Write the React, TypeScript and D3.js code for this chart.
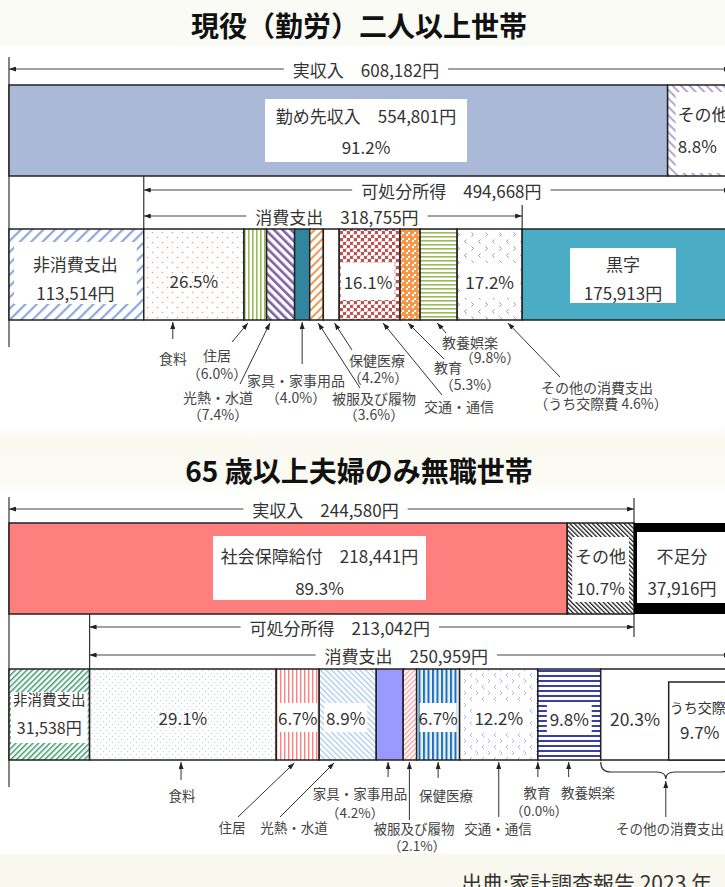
import React from "react";
import * as d3 from "d3";

const FONT = "'Noto Sans CJK JP', 'Noto Sans', sans-serif";

// 現役（勤労）二人以上世帯
const workTitle = "現役（勤労）二人以上世帯";
const workBracketLabels = ["実収入", "可処分所得", "消費支出"];
const workBracketValues = [608182, 494668, 318755];
const workIncomeLabels = ["勤め先収入", "その他"];
const workIncomeValues = [554801, 53381];
const workIncomeShares = [91.2, 8.8];
const workNonConsumption = 113514;
const workSurplus = 175913;
const workExpenseShares = [26.5, 6.0, 7.4, 4.0, 3.6, 4.2, 16.1, 5.3, 9.8, 17.2];
const workSocialShare = 4.6;

// 65歳以上夫婦のみ無職世帯
const seniorTitle = "65 歳以上夫婦のみ無職世帯";
const seniorBracketLabels = ["実収入", "可処分所得", "消費支出"];
const seniorBracketValues = [244580, 213042, 250959];
const seniorIncomeLabels = ["社会保障給付", "その他"];
const seniorIncomeValues = [218441, 26139];
const seniorIncomeShares = [89.3, 10.7];
const seniorNonConsumption = 31538;
const seniorDeficit = 37916;
const seniorExpenseShares = [29.1, 6.7, 8.9, 4.2, 2.1, 6.7, 12.2, 0.0, 9.8, 20.3];
const seniorSocialShare = 9.7;

const expenseCategories = [
  "食料", "住居", "光熱・水道", "家具・家事用品", "被服及び履物",
  "保健医療", "交通・通信", "教育", "教養娯楽", "その他の消費支出",
];
const sourceNote = "出典:家計調査報告 2023 年";

const yen = (v: number) => d3.format(",")(v) + "円";
const pct = (v: number) => d3.format(".1f")(v) + "%";

let ctx: CanvasRenderingContext2D | null = null;
function textWidth(s: string, size: number) {
  if (!ctx) ctx = document.createElement("canvas").getContext("2d");
  if (!ctx) return s.length * size;
  ctx.font = `${size}px ${FONT}`;
  return ctx.measureText(s).width;
}

// cumulative layout of the consumption breakdown between two x positions
function segments(shares: number[], x0: number, x1: number) {
  const s = d3.scaleLinear().domain([0, d3.sum(shares)]).range([x0, x1]);
  const cum = d3.cumsum(shares);
  return shares.map((v, i) => ({ i, share: v, x0: s(cum[i] - v), x1: s(cum[i]) }));
}

function Stripes({ id, color, size, width, angle, bg = "#fff" }: any) {
  return (
    <pattern id={id} patternUnits="userSpaceOnUse" width={size} height={size}
      patternTransform={`rotate(${angle})`}>
      <rect width={size} height={size} fill={bg} />
      <rect width={width} height={size} fill={color} />
    </pattern>
  );
}

function Dots({ id, color, size, r, bg = "#fff" }: any) {
  return (
    <pattern id={id} patternUnits="userSpaceOnUse" width={size} height={size}>
      <rect width={size} height={size} fill={bg} />
      <circle cx={size / 4} cy={size / 4} r={r} fill={color} />
      <circle cx={(size * 3) / 4} cy={(size * 3) / 4} r={r} fill={color} />
    </pattern>
  );
}

function Chevrons({ id, color, size }: any) {
  const q = size / 4;
  return (
    <pattern id={id} patternUnits="userSpaceOnUse" width={size} height={size}>
      <rect width={size} height={size} fill="#fff" />
      <path d={`M${q + 1},${q - 2}l-2,2l2,2`} stroke={color} fill="none" strokeWidth={1} />
      <path d={`M${3 * q - 1},${3 * q - 2}l2,2l-2,2`} stroke={color} fill="none" strokeWidth={1} />
    </pattern>
  );
}

function Bracket({ x0, x1, y, text, dx = 0 }: any) {
  const w = textWidth(text, 17);
  const cx = (x0 + x1) / 2 + dx;
  return (
    <g>
      <line x1={cx - w / 2 - 9} x2={x0} y1={y} y2={y} stroke="#444" strokeWidth={1.2} markerEnd="url(#arr)" />
      <line x1={cx + w / 2 + 9} x2={x1} y1={y} y2={y} stroke="#444" strokeWidth={1.2} markerEnd="url(#arr)" />
      <text x={cx} y={y} textAnchor="middle" dominantBaseline="central" fontSize={17} fill="#333">{text}</text>
    </g>
  );
}

function Box({ x, y, w, h, lines, size = 17, stroke = "none", anchor = "middle", tx }: any) {
  const cx = tx ?? x + w / 2;
  return (
    <g>
      <rect x={x} y={y} width={w} height={h} fill="#fff" stroke={stroke} strokeWidth={1.5} />
      {lines.map((l: any, k: number) => (
        <text key={k} x={l.x ?? cx} y={l.y} textAnchor={l.anchor ?? anchor} dominantBaseline="central"
          fontSize={l.size ?? size} fill="#333">
          {l.text}
        </text>
      ))}
    </g>
  );
}

function Note({ tip, tail, lines, size = 14 }: any) {
  return (
    <g>
      <line x1={tail[0]} y1={tail[1]} x2={tip[0]} y2={tip[1]} stroke="#333" strokeWidth={1} markerEnd="url(#arr)" />
      {lines.map((l: any, k: number) => (
        <text key={k} x={l[1]} y={l[2]} textAnchor="middle" dominantBaseline="central" fontSize={size} fill="#444">
          {l[0]}
        </text>
      ))}
    </g>
  );
}

const workFills = ["url(#wFood)", "url(#wHouse)", "url(#wUtil)", "#31859C", "url(#wCloth)", "#fff",
  "url(#wTrans)", "url(#wEdu)", "url(#wCult)", "url(#wOther)"];
const seniorFills = ["url(#sFood)", "url(#sHouse)", "url(#sUtil)", "#9999FF", "url(#sCloth)", "url(#sHealth)",
  "url(#sTrans)", "#fff", "url(#sCult)", "#fff"];

export default function App() {
  const W = 725, H = 887;
  const tx = d3.scaleLinear().domain([0, workBracketValues[0]]).range([9, 731]);
  const bx = d3.scaleLinear().domain([0, seniorBracketValues[0]]).range([9, 634]);

  // top section
  const tIncomeY = 85, tIncomeH = 91;
  const tExpY = 229, tExpH = 91;
  const tSplit = tx(workIncomeValues[0]);
  const tNon = tx(workNonConsumption);
  const tConsEnd = tx(workNonConsumption + workBracketValues[2]);
  const tSeg = segments(workExpenseShares, tNon, tConsEnd);
  const tSurplusEnd = tx(workNonConsumption + workBracketValues[2] + workSurplus);
  const tt = (i: number, t: number) => tSeg[i].x0 + t * (tSeg[i].x1 - tSeg[i].x0);

  // bottom section
  const bIncomeY = 523, bIncomeH = 91;
  const bExpY = 669, bExpH = 91;
  const bSplit = bx(seniorIncomeValues[0]);
  const bIncEnd = bx(seniorBracketValues[0]);
  const bDefEnd = bx(seniorBracketValues[0] + seniorDeficit);
  const bNon = bx(seniorNonConsumption);
  const bConsEnd = bx(seniorNonConsumption + seniorBracketValues[2]);
  const bSeg = segments(seniorExpenseShares, bNon, bConsEnd);
  const bt = (i: number, t: number) => bSeg[i].x0 + t * (bSeg[i].x1 - bSeg[i].x0);
  const oth = bSeg[9];
  const socialX = d3.scaleLinear().domain([0, seniorExpenseShares[9]]).range([oth.x1, oth.x0])(seniorSocialShare);
  const braceMid = (oth.x0 + oth.x1) / 2;

  return (
    <div>
      <style>{"body{margin:0}"}</style>
      <svg width={W} height={H} fontFamily={FONT} style={{ display: "block" }}>
        <defs>
          <marker id="arr" viewBox="0 0 7 5" refX={7} refY={2.5} markerWidth={7} markerHeight={5}
            orient="auto" markerUnits="userSpaceOnUse">
            <path d="M0,0L7,2.5L0,5z" fill="#222" />
          </marker>
          <linearGradient id="band" x1="0" y1="0" x2="0" y2="1">
            <stop offset="0" stopColor="#fff" />
            <stop offset="0.25" stopColor="#F9F9F0" />
            <stop offset="0.8" stopColor="#FAFAF3" />
            <stop offset="1" stopColor="#fff" />
          </linearGradient>
          <Stripes id="wIncOther" color="#B4A7D6" size={6} width={2} angle={-45} />
          <Stripes id="wNon" color="#8EA9DB" size={8} width={2.2} angle={45} />
          <Dots id="wFood" color="#E39A9A" size={10} r={0.8} />
          <Stripes id="wHouse" color="#9BBB59" size={4} width={1.6} angle={0} />
          <Stripes id="wUtil" color="#7F60A8" size={6} width={2.6} angle={-45} />
          <Stripes id="wCloth" color="#F79646" size={6} width={2} angle={45} />
          <Dots id="wTrans" color="#fff" size={7} r={2.3} bg="#C0504D" />
          <Dots id="wEdu" color="#F79646" size={6} r={2.6} />
          <Stripes id="wCult" color="#9BBB59" size={4} width={1.6} angle={90} />
          <Chevrons id="wOther" color="#A08FD0" size={14} />
          <Stripes id="sIncOther" color="#222" size={3.2} width={1.3} angle={-45} />
          <Stripes id="sNon" color="#3E9B6E" size={4} width={1.5} angle={45} />
          <Dots id="sFood" color="#A9CCEB" size={6} r={0.6} />
          <Stripes id="sHouse" color="#FF8080" size={4} width={1.4} angle={0} />
          <Stripes id="sUtil" color="#A8CBEA" size={4} width={1.3} angle={-45} />
          <Stripes id="sCloth" color="#FF9999" size={3.5} width={1.2} angle={45} />
          <Stripes id="sHealth" color="#1F6FB8" size={4.5} width={2} angle={0} bg="#E6F1FB" />
          <Chevrons id="sTrans" color="#B4B4F0" size={12} />
          <Stripes id="sCult" color="#3D3DA8" size={5} width={2} angle={90} />
        </defs>

        {/* background bands */}
        <rect x={0} y={0} width={W} height={H} fill="#fff" />
        <rect x={0} y={0} width={W} height={46} fill="#FBFBF6" />
        <rect x={0} y={424} width={W} height={70} fill="url(#band)" />
        <rect x={0} y={854} width={W} height={33} fill="#F8F8EE" />

        {/* ===== 現役（勤労）二人以上世帯 ===== */}
        <text x={359} y={25} textAnchor="middle" dominantBaseline="central" fontSize={28} fontWeight="bold" fill="#111">
          {workTitle}
        </text>

        <line x1={tx(0)} x2={tx(0)} y1={57} y2={347} stroke="#333" strokeWidth={1.2} />
        <line x1={tNon} x2={tNon} y1={tIncomeY + tIncomeH} y2={tExpY} stroke="#333" strokeWidth={1.2} />
        <line x1={tConsEnd} x2={tConsEnd} y1={205} y2={tExpY} stroke="#333" strokeWidth={1.2} />

        <Bracket x0={tx(0)} x1={tx(workBracketValues[0])} y={69} dx={-4}
          text={`${workBracketLabels[0]}　${yen(workBracketValues[0])}`} />
        <Bracket x0={tNon} x1={tx(workNonConsumption + workBracketValues[1])} y={190} dx={14}
          text={`${workBracketLabels[1]}　${yen(workBracketValues[1])}`} />
        <Bracket x0={tNon} x1={tConsEnd} y={216} dx={4}
          text={`${workBracketLabels[2]}　${yen(workBracketValues[2])}`} />

        {/* income bar */}
        <rect x={tx(0)} y={tIncomeY} width={tSplit - tx(0)} height={tIncomeH} fill="#A9B9D7" stroke="#222" strokeWidth={1.5} />
        <rect x={tSplit} y={tIncomeY} width={tx(workBracketValues[0]) - tSplit} height={tIncomeH} fill="url(#wIncOther)" stroke="#222" strokeWidth={1.5} />
        <Box x={265} y={99} w={202} h={63}
          lines={[{ text: `${workIncomeLabels[0]}　${yen(workIncomeValues[0])}`, y: 115 }, { text: pct(workIncomeShares[0]), y: 146 }]} />
        <Box x={tSplit + 8} y={tIncomeY + 7} w={60} h={tIncomeH - 10} anchor="start" tx={tSplit + 10}
          lines={[{ text: workIncomeLabels[1], y: 113 }, { text: pct(workIncomeShares[1]), y: 145 }]} />

        {/* expense bar */}
        <rect x={tx(0)} y={tExpY} width={tNon - tx(0)} height={tExpH} fill="url(#wNon)" stroke="#222" strokeWidth={1.5} />
        <Box x={tx(0) + 5} y={242} w={tNon - tx(0) - 12} h={62}
          lines={[{ text: "非消費支出", y: 263 }, { text: yen(workNonConsumption), y: 292 }]} />
        {tSeg.map((s) => (
          <rect key={s.i} x={s.x0} y={tExpY} width={s.x1 - s.x0} height={tExpH} fill={workFills[s.i]} stroke="#222" strokeWidth={1.5} />
        ))}
        <rect x={tConsEnd} y={tExpY} width={tSurplusEnd - tConsEnd} height={tExpH} fill="#4BACC6" stroke="#222" strokeWidth={1.5} />
        <text x={(tSeg[0].x0 + tSeg[0].x1) / 2} y={280} textAnchor="middle" dominantBaseline="central" fontSize={17} fill="#333">
          {pct(workExpenseShares[0])}
        </text>
        <Box x={tSeg[6].x0 + 1.5} y={263} w={tSeg[6].x1 - tSeg[6].x0 - 7} h={37} tx={368}
          lines={[{ text: pct(workExpenseShares[6]), y: 281 }]} />
        <Box x={tSeg[9].x0 + 4} y={263} w={tSeg[9].x1 - tSeg[9].x0 - 8} h={35}
          lines={[{ text: pct(workExpenseShares[9]), y: 281 }]} />
        <Box x={570} y={248} w={106} h={55}
          lines={[{ text: "黒字", y: 263 }, { text: yen(workSurplus), y: 292 }]} />

        {/* annotations */}
        <g>
          <Note tip={[tt(0, 0.29), 322]} tail={[tt(0, 0.29), 339]} lines={[[expenseCategories[0], 173, 358]]} />
          <Note tip={[tt(1, 0.18), 323]} tail={[232, 342]}
            lines={[[expenseCategories[1], 217, 355], [`（${pct(workExpenseShares[1])}）`, 217, 373]]} />
          <Note tip={[tt(2, 0.12), 323]} tail={[240, 384]}
            lines={[[expenseCategories[2], 218, 397], [`（${pct(workExpenseShares[2])}）`, 218, 414]]} />
          <Note tip={[tt(3, 0.5), 322]} tail={[tt(3, 0.5), 364]}
            lines={[[expenseCategories[3], 296, 380], [`（${pct(workExpenseShares[3])}）`, 296, 397]]} />
          <Note tip={[tt(4, 0.62), 323]} tail={[360, 388]}
            lines={[[expenseCategories[4], 374, 398], [`（${pct(workExpenseShares[4])}）`, 374, 414]]} />
          <Note tip={[tt(5, 0.7), 323]} tail={[352, 350]}
            lines={[[expenseCategories[5], 377, 360], [`（${pct(workExpenseShares[5])}）`, 378, 377]]} />
          <Note tip={[tt(6, 0.72), 323]} tail={[442, 395]} lines={[[expenseCategories[6], 459, 406]]} />
          <Note tip={[tt(7, 0.4), 323]} tail={[444, 359]}
            lines={[[expenseCategories[7], 448, 367], [`（${pct(workExpenseShares[7])}）`, 470, 384]]} />
          <Note tip={[tt(8, 0.46), 323]} tail={[446, 333]}
            lines={[[expenseCategories[8], 470, 342], [`（${pct(workExpenseShares[8])}）`, 490, 357]]} />
          <Note tip={[tt(9, 0.78), 323]} tail={[560, 377]}
            lines={[[expenseCategories[9], 597, 387], [`（うち交際費 ${pct(workSocialShare)}）`, 601, 403]]} />
        </g>

        {/* ===== 65歳以上夫婦のみ無職世帯 ===== */}
        <text x={359} y={470} textAnchor="middle" dominantBaseline="central" fontSize={28} fontWeight="bold" fill="#111">
          {seniorTitle}
        </text>

        <line x1={bx(0)} x2={bx(0)} y1={497} y2={787} stroke="#333" strokeWidth={1.2} />
        <line x1={bIncEnd} x2={bIncEnd} y1={498} y2={637} stroke="#333" strokeWidth={1.2} />
        <line x1={bNon} x2={bNon} y1={bIncomeY + bIncomeH} y2={bExpY} stroke="#333" strokeWidth={1.2} />

        <Bracket x0={bx(0)} x1={bIncEnd} y={509} dx={4}
          text={`${seniorBracketLabels[0]}　${yen(seniorBracketValues[0])}`} />
        <Bracket x0={bNon} x1={bx(seniorNonConsumption + seniorBracketValues[1])} y={627} dx={-22}
          text={`${seniorBracketLabels[1]}　${yen(seniorBracketValues[1])}`} />
        <Bracket x0={bNon} x1={bConsEnd} y={655} dx={-4}
          text={`${seniorBracketLabels[2]}　${yen(seniorBracketValues[2])}`} />

        {/* income bar */}
        <rect x={bx(0)} y={bIncomeY} width={bSplit - bx(0)} height={bIncomeH} fill="#FF7F7F" stroke="#222" strokeWidth={1.5} />
        <rect x={bSplit} y={bIncomeY} width={bIncEnd - bSplit} height={bIncomeH} fill="url(#sIncOther)" stroke="#222" strokeWidth={1.5} />
        <rect x={bIncEnd} y={bIncomeY} width={bDefEnd - bIncEnd} height={bIncomeH} fill="#000" />
        <Box x={213} y={536} w={213} h={64}
          lines={[{ text: `${seniorIncomeLabels[0]}　${yen(seniorIncomeValues[0])}`, y: 555 }, { text: pct(seniorIncomeShares[0]), y: 587 }]} />
        <Box x={bSplit + 5} y={537} w={bIncEnd - bSplit - 10} h={65}
          lines={[{ text: seniorIncomeLabels[1], y: 555 }, { text: pct(seniorIncomeShares[1]), y: 587 }]} />
        <Box x={bIncEnd + 3} y={532} w={bDefEnd - bIncEnd} h={71} tx={682}
          lines={[{ text: "不足分", y: 555 }, { text: yen(seniorDeficit), y: 587 }]} />

        {/* expense bar */}
        <rect x={bx(0)} y={bExpY} width={bNon - bx(0)} height={bExpH} fill="url(#sNon)" stroke="#222" strokeWidth={1.5} />
        <Box x={bx(0) + 2} y={692} w={bNon - bx(0) - 4} h={51}
          lines={[{ text: "非消費支出", y: 698, size: 14.5 }, { text: yen(seniorNonConsumption), y: 727, size: 16 }]} />
        {bSeg.map((s) => (
          <rect key={s.i} x={s.x0} y={bExpY} width={s.x1 - s.x0} height={bExpH} fill={seniorFills[s.i]} stroke="#222" strokeWidth={1.5} />
        ))}
        <text x={(bSeg[0].x0 + bSeg[0].x1) / 2} y={717} textAnchor="middle" dominantBaseline="central" fontSize={17} fill="#333">
          {pct(seniorExpenseShares[0])}
        </text>
        <Box x={bSeg[1].x0 + 2} y={703} w={bSeg[1].x1 - bSeg[1].x0 - 4} h={29}
          lines={[{ text: pct(seniorExpenseShares[1]), y: 717 }]} />
        <Box x={bSeg[2].x0 + 5} y={703} w={bSeg[2].x1 - bSeg[2].x0 - 14} h={29}
          lines={[{ text: pct(seniorExpenseShares[2]), y: 717 }]} />
        <Box x={bSeg[5].x0 + 3} y={703} w={bSeg[5].x1 - bSeg[5].x0 - 6} h={29}
          lines={[{ text: pct(seniorExpenseShares[5]), y: 717 }]} />
        <Box x={bSeg[6].x0 + 12} y={703} w={bSeg[6].x1 - bSeg[6].x0 - 24} h={30}
          lines={[{ text: pct(seniorExpenseShares[6]), y: 717 }]} />
        <Box x={bSeg[8].x0 + 9} y={703} w={bSeg[8].x1 - bSeg[8].x0 - 18} h={30}
          lines={[{ text: pct(seniorExpenseShares[8]), y: 718 }]} />
        <text x={635} y={718} textAnchor="middle" dominantBaseline="central" fontSize={17.5} fill="#333">
          {pct(seniorExpenseShares[9])}
        </text>
        <Box x={socialX} y={682} w={oth.x1 - socialX} h={bExpY + bExpH - 682} stroke="#222"
          lines={[
            { text: "うち交際費", y: 707, size: 14, anchor: "start", x: socialX + 1 },
            { text: pct(seniorSocialShare), y: 731, x: socialX + 31 },
          ]} />

        {/* annotations */}
        <g>
          <Note size={13.5} tip={[bt(0, 0.49), 762]} tail={[bt(0, 0.49), 780]} lines={[[expenseCategories[0], 182, 795]]} />
          <Note size={13.5} tip={[bt(1, 0.42), 763]} tail={[238, 817]} lines={[[expenseCategories[1], 232, 827]]} />
          <Note size={13.5} tip={[bt(2, 0.26), 763]} tail={[280, 817]} lines={[[expenseCategories[2], 294, 827]]} />
          <Note size={13.5} tip={[bt(3, 0.44), 762]} tail={[bt(3, 0.44), 777]}
            lines={[[expenseCategories[3], 360, 793], [`（${pct(seniorExpenseShares[3])}）`, 355, 812]]} />
          <Note size={13.5} tip={[bt(4, 0.46), 762]} tail={[bt(4, 0.46), 820]}
            lines={[[expenseCategories[4], 414, 828], [`（${pct(seniorExpenseShares[4])}）`, 417, 845]]} />
          <Note size={13.5} tip={[bt(5, 0.5), 762]} tail={[bt(5, 0.5), 778]} lines={[[expenseCategories[5], 446, 795]]} />
          <Note size={13.5} tip={[bt(6, 0.5), 762]} tail={[bt(6, 0.5), 817]} lines={[[expenseCategories[6], 498, 828]]} />
          <Note size={13.5} tip={[bt(7, 0), 762]} tail={[bt(7, 0), 777]}
            lines={[[expenseCategories[7], 537, 792], [`（${pct(seniorExpenseShares[7])}）`, 539, 810]]} />
          <Note size={13.5} tip={[bt(8, 0.49), 762]} tail={[bt(8, 0.49), 777]} lines={[[expenseCategories[8], 588, 792]]} />
          <path
            d={`M${oth.x0},${762} Q${oth.x0},${772} ${oth.x0 + 10},${772} L${braceMid - 9},${772} Q${braceMid},${772} ${braceMid},${779}
               Q${braceMid},${772} ${braceMid + 9},${772} L${oth.x1 - 10},${772} Q${oth.x1},${772} ${oth.x1},${762}`}
            fill="none" stroke="#333" strokeWidth={1.2} />
          <Note size={13.5} tip={[braceMid, 781]} tail={[braceMid, 817]} lines={[[expenseCategories[9], 670, 828]]} />
        </g>

        <text x={712} y={891} textAnchor="end" fontSize={21} fill="#333">{sourceNote}</text>
      </svg>
    </div>
  );
}
